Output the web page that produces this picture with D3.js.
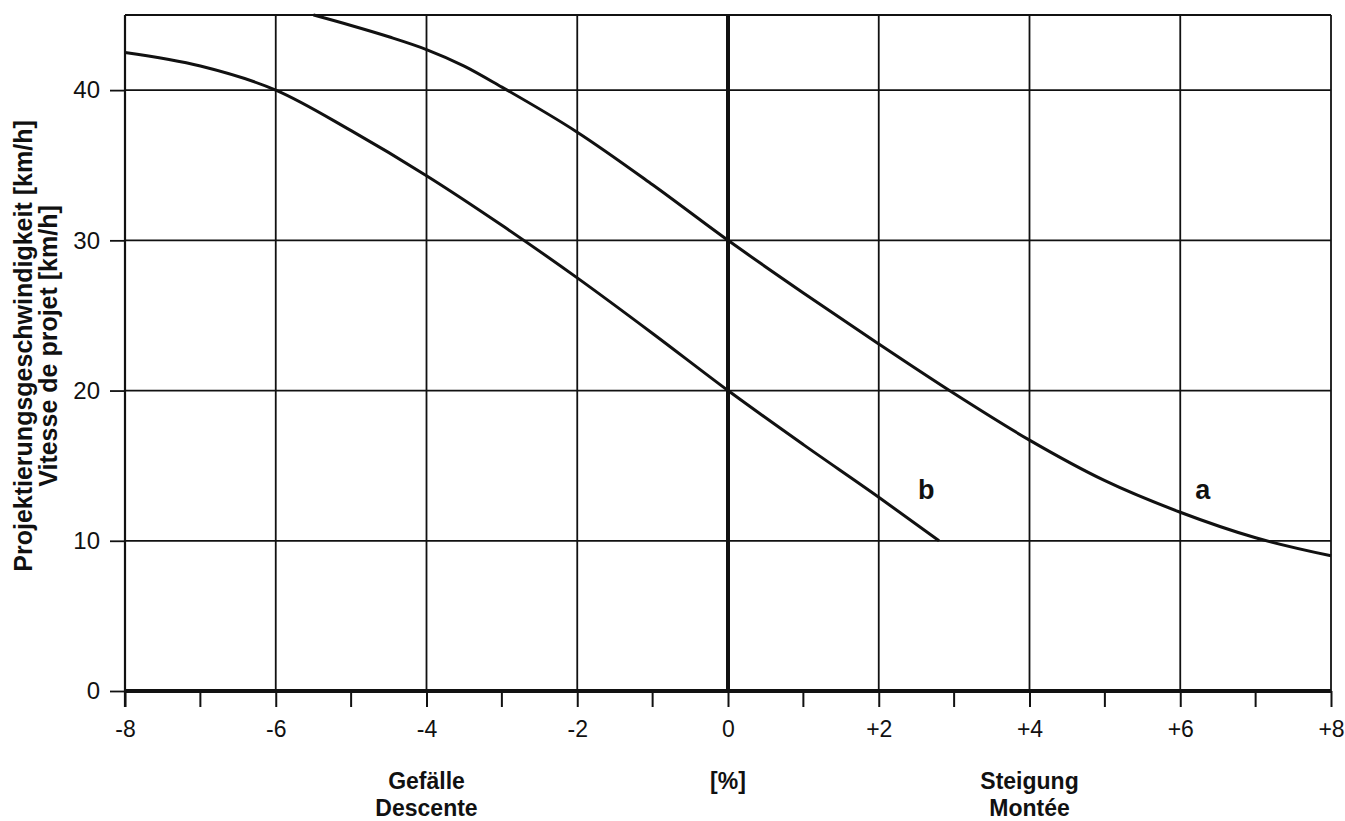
<!DOCTYPE html>
<html>
<head>
<meta charset="utf-8">
<script src="https://cdn.jsdelivr.net/npm/d3@7"></script>
<style>
  body { margin: 0; background: #fff; }
  svg text { font-family: "Liberation Sans", Arial, sans-serif; fill: #111; }
</style>
</head>
<body>
<svg id="chart" width="1345" height="821"></svg>
<script>
// grade [%] vs design speed [km/h]
const xTicks = [-8, -6, -4, -2, 0, 2, 4, 6, 8];
const xMinorTicks = [-7, -5, -3, -1, 1, 3, 5, 7];
const yTicks = [0, 10, 20, 30, 40];

const curveA = [
  [-5.5, 45], [-5, 44.3], [-4.5, 43.55], [-4, 42.7], [-3.5, 41.6], [-3, 40.2],
  [-2, 37.2], [-1, 33.7], [0, 30], [1, 26.5], [2, 23.1], [3, 19.8],
  [4, 16.7], [5, 14.0], [6, 11.9], [7, 10.2], [8, 9.0]
];
const curveB = [
  [-8, 42.5], [-7, 41.6], [-6, 40], [-5, 37.3], [-4, 34.3], [-3, 31],
  [-2, 27.5], [-1, 23.8], [0, 20], [1, 16.4], [2, 12.9], [2.8, 10]
];
const curveLabels = [
  { name: "a", x: 6.3, y: 13.4 },
  { name: "b", x: 2.63, y: 13.4 }
];
const bottomLabels = [
  { x: -4, line: 0, text: "Gefälle" },
  { x: -4, line: 1, text: "Descente" },
  { x: 0, line: 0, text: "[%]" },
  { x: 4, line: 0, text: "Steigung" },
  { x: 4, line: 1, text: "Montée" }
];
const yTitle = ["Projektierungsgeschwindigkeit [km/h]", "Vitesse de projet [km/h]"];

const plotL = 125, plotR = 1331, plotT = 15, plotB = 691;
const svg = d3.select("#chart");

const x = d3.scaleLinear().domain([-8, 8]).range([plotL, plotR]);
const y = d3.scaleLinear().domain([0, 45]).range([plotB, plotT]);

const fmt = d => d > 0 ? "+" + d : String(d);

// grid
const grid = svg.append("g").attr("stroke", "#111");
grid.selectAll(".v").data(xTicks).join("line")
  .attr("x1", d => x(d)).attr("x2", d => x(d))
  .attr("y1", plotT).attr("y2", plotB)
  .attr("stroke-width", d => d === 0 ? 4 : 1.8);
grid.selectAll(".h").data(yTicks.filter(d => d > 0)).join("line")
  .attr("x1", plotL).attr("x2", plotR)
  .attr("y1", d => y(d)).attr("y2", d => y(d))
  .attr("stroke-width", 1.8);
grid.append("line")
  .attr("x1", plotL).attr("x2", plotR).attr("y1", plotT).attr("y2", plotT)
  .attr("stroke-width", 2.2);

// x axis
const xAxis = svg.append("g").attr("transform", `translate(0,${plotB})`)
  .call(d3.axisBottom(x).tickValues(xTicks).tickFormat(fmt).tickSize(16).tickPadding(14))
  .attr("font-size", 23);
xAxis.select(".domain").remove();
xAxis.selectAll(".tick line").attr("stroke", "#111").attr("stroke-width", 2);
xAxis.selectAll(".tick text").attr("font-size", 23).attr("fill", "#111");
svg.append("g").selectAll("line").data(xMinorTicks).join("line")
  .attr("x1", d => x(d)).attr("x2", d => x(d))
  .attr("y1", plotB).attr("y2", plotB + 16)
  .attr("stroke", "#111").attr("stroke-width", 2);
svg.append("line")
  .attr("x1", plotL).attr("x2", plotR).attr("y1", plotB).attr("y2", plotB)
  .attr("stroke", "#111").attr("stroke-width", 4);

// y axis
const yAxis = svg.append("g").attr("transform", `translate(${plotL},0)`)
  .call(d3.axisLeft(y).tickValues(yTicks).tickSize(15).tickPadding(10))
  .attr("font-size", 24);
yAxis.select(".domain").remove();
yAxis.selectAll(".tick line").attr("stroke", "#111").attr("stroke-width", 1.8);
yAxis.selectAll(".tick text").attr("font-size", 24).attr("fill", "#111");
svg.append("line")
  .attr("x1", plotL).attr("x2", plotL).attr("y1", plotT).attr("y2", plotB + 16)
  .attr("stroke", "#111").attr("stroke-width", 2.2);

// curves
const line = d3.line().x(d => x(d[0])).y(d => y(d[1])).curve(d3.curveMonotoneX);
svg.append("g").selectAll("path").data([curveA, curveB]).join("path")
  .attr("d", line)
  .attr("fill", "none").attr("stroke", "#111").attr("stroke-width", 3);

svg.append("g").selectAll("text").data(curveLabels).join("text")
  .attr("x", d => x(d.x)).attr("y", d => y(d.y))
  .attr("text-anchor", "middle").attr("dy", "0.35em")
  .attr("font-size", 27).attr("font-weight", "bold")
  .text(d => d.name);

// bottom labels
svg.append("g").selectAll("text").data(bottomLabels).join("text")
  .attr("text-anchor", "middle").attr("font-size", 23).attr("font-weight", "bold")
  .attr("x", d => x(d.x)).attr("y", d => 789 + d.line * 26.5)
  .text(d => d.text);

// y title
svg.append("g").selectAll("text").data(yTitle).join("text")
  .attr("transform", (d, i) => `translate(${32 + i * 25},346) rotate(-90)`)
  .attr("text-anchor", "middle").attr("font-size", 25).attr("font-weight", "bold")
  .text(d => d);
</script>
</body>
</html>
